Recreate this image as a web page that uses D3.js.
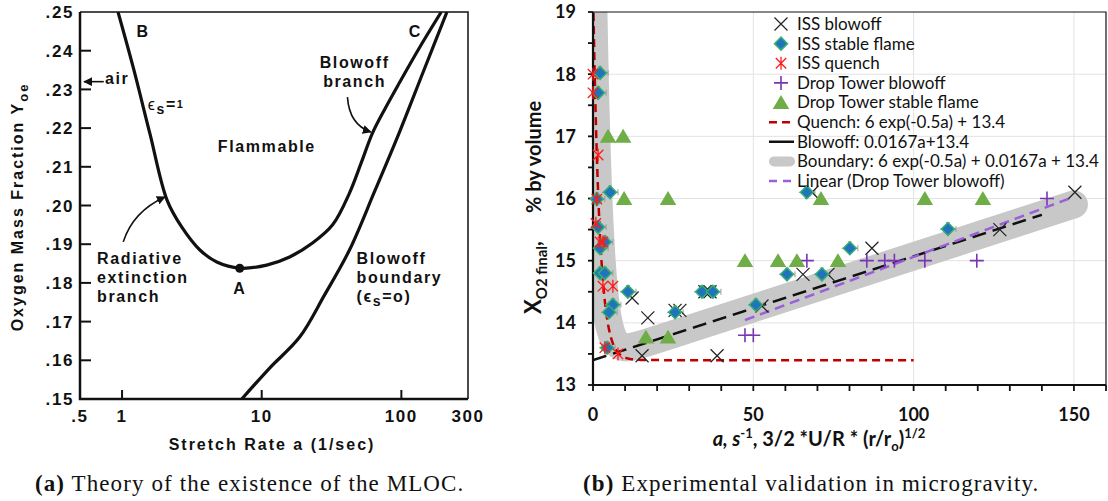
<!DOCTYPE html>
<html>
<head>
<meta charset="utf-8">
<script src="https://cdn.jsdelivr.net/npm/d3@7"></script>
<style>
  body { margin: 0; background: #fff; }
  svg { display: block; }
  .ta { font-family: "Liberation Sans", Arial, sans-serif; font-weight: bold; font-size: 16px; letter-spacing: 1.6px; fill: #111; }
  .tb { font-family: Lato, "Open Sans", sans-serif; fill: #111; }
  .cap { font-family: "Liberation Serif", "Times New Roman", serif; font-size: 23px; letter-spacing: 1.1px; fill: #111; }
</style>
</head>
<body>
<svg id="fig" width="1108" height="501"></svg>
<script>
// ---------- panel (a): theory, stretch rate vs oxygen mass fraction ----------
var radBranch = [[0.936,0.250],[1.20,0.2358],[1.58,0.2187],[2.10,0.2014],[2.68,0.1944],[3.61,0.1885],
  [4.77,0.1854],[6.96,0.1838],[10.86,0.1846],[15.85,0.1867],[23.1,0.1903],[32.2,0.1950],[42.5,0.2032],
  [51.8,0.2112],[62.1,0.2187],[76.9,0.2252],[96.8,0.2317],[134.4,0.2407],[193,0.250]];
var blowoffBoundary = [[7.2,0.150],[11.4,0.158],[18.7,0.166],[28.2,0.1769],[42.5,0.1885],[64.1,0.2035],
  [96.3,0.2187],[143.3,0.2345],[212,0.250]];
var pointA = [6.96, 0.1838];
var yTicksA = d3.range(0.15, 0.2501, 0.01);
var xTickLabelsA = [[0.5,'.5'],[1,'1'],[10,'10'],[100,'100'],[300,'300']];

// ---------- panel (b): experiments in microgravity ----------
var issBlowoff = [[12.2,14.40],[17.1,14.08],[15.3,13.47],[38.7,13.47],[25.6,14.2],[27.1,14.2],[34.9,14.5],
  [36.5,14.5],[52.7,14.27],[65.5,14.78],[73.3,14.78],[68.3,16.1],[87.0,15.2],[126.9,15.5],[150.3,16.1]];
var issStable = [[2.2,18.02],[1.6,17.70],[5.3,16.10],[1.2,15.99],[1.6,15.54],[2.2,15.20],[3.7,15.30],
  [2.2,14.80],[3.7,14.80],[6.2,14.29],[5.0,14.17],[4.4,13.60],[10.9,14.50],[25.6,14.17],[34.0,14.5],
  [37.4,14.5],[50.8,14.29],[66.7,16.10],[80.1,15.20],[60.5,14.78],[71.4,14.78],[110.7,15.51]];
var issQuench = [[0,18.0],[0,17.70],[1.6,16.70],[1.2,15.99],[0.9,15.60],[2.2,15.30],[3.1,15.30],
  [3.1,14.59],[6.2,14.59],[3.7,13.60],[7.8,13.50]];
var dropBlowoff = [[47.4,13.8],[50.0,13.8],[66.7,15.0],[85.4,15.0],[91.0,15.0],[94.0,15.0],[103.5,15.0],
  [119.7,15.0],[141.6,16.0]];
var dropStable = [[4.7,17.0],[9.4,17.0],[9.7,16.0],[23.4,16.0],[71.1,16.0],[103.5,16.0],[121.6,16.0],
  [47.4,15.0],[57.7,15.0],[63.6,15.0],[76.4,15.0],[16.5,13.77],[23.4,13.77]];
var quenchEnd = 100, blowoffEnd = 140, boundaryEnd = 150, trendEnd = 150;
var yTicksB = [13,14,15,16,17,18,19];
var xTicksB = [0,50,100,150];
var legendLabels = ['ISS blowoff','ISS stable flame','ISS quench','Drop Tower blowoff','Drop Tower stable flame',
  'Quench: 6 exp(-0.5a) + 13.4','Blowoff: 0.0167a+13.4','Boundary: 6 exp(-0.5a) + 0.0167a + 13.4',
  'Linear (Drop Tower blowoff)'];

var svg = d3.select('#fig');
var defs = svg.append('defs');

// =============== panel (a) ===============
var xa = d3.scaleLog().domain([0.5, 300]).range([80, 468]);
var ya = d3.scaleLinear().domain([0.15, 0.25]).range([399, 12]);

defs.append('clipPath').attr('id', 'clipA').append('rect')
  .attr('x', 80).attr('y', 12).attr('width', 388).attr('height', 387);
defs.append('marker').attr('id', 'head').attr('viewBox', '0 0 10 10')
  .attr('refX', 9).attr('refY', 5).attr('markerWidth', 9).attr('markerHeight', 9)
  .attr('markerUnits', 'userSpaceOnUse').attr('orient', 'auto')
  .append('path').attr('d', 'M0,0L10,5L0,10z').attr('fill', '#111');

var ga = svg.append('g');
// frame
ga.append('path').attr('d', 'M' + xa(0.5) + ',' + ya(0.25) + 'H' + xa(300) + 'V' + ya(0.15))
  .attr('fill', 'none').attr('stroke', '#111').attr('stroke-width', 1.5);
ga.append('path').attr('d', 'M' + xa(0.5) + ',' + ya(0.25) + 'V' + ya(0.15) + 'H' + xa(300))
  .attr('fill', 'none').attr('stroke', '#111').attr('stroke-width', 2.5);

// inward ticks
ga.selectAll('.yt').data(yTicksA.slice(1, -1)).enter().append('line')
  .attr('x1', xa(0.5)).attr('x2', xa(0.5) + 11)
  .attr('y1', function(d){ return ya(d); }).attr('y2', function(d){ return ya(d); })
  .attr('stroke', '#111').attr('stroke-width', 2);
ga.selectAll('.xt').data([1, 10, 100]).enter().append('line')
  .attr('x1', function(d){ return xa(d); }).attr('x2', function(d){ return xa(d); })
  .attr('y1', ya(0.15)).attr('y2', ya(0.15) - 9)
  .attr('stroke', '#111').attr('stroke-width', 2);

ga.selectAll('.yl').data(yTicksA).enter().append('text').attr('class', 'ta')
  .attr('x', xa(0.5) - 6).attr('y', function(d){ return ya(d); }).attr('dy', '0.36em')
  .attr('text-anchor', 'end').style('font-size', '17px')
  .text(function(d){ return d3.format('.2f')(d).replace(/^0/, ''); });
ga.selectAll('.xl').data(xTickLabelsA).enter().append('text').attr('class', 'ta')
  .attr('x', function(d){ return xa(d[0]); }).attr('y', 422)
  .attr('text-anchor', 'middle').style('font-size', '17px')
  .text(function(d){ return d[1]; });

ga.append('text').attr('class', 'ta').attr('x', 272).attr('y', 450).attr('text-anchor', 'middle')
  .style('letter-spacing', '2px').text('Stretch Rate a (1/sec)');
var yTitleA = ga.append('text').attr('class', 'ta')
  .attr('transform', 'translate(23,207) rotate(-90)').attr('text-anchor', 'middle')
  .style('letter-spacing', '2px');
yTitleA.append('tspan').text('Oxygen Mass Fraction Y');
yTitleA.append('tspan').attr('dy', 5).style('font-size', '13px').text('oe');

// curves
var lineA = d3.line().x(function(d){ return xa(d[0]); }).y(function(d){ return ya(d[1]); })
  .curve(d3.curveCatmullRom.alpha(0.5));
var curves = ga.append('g').attr('clip-path', 'url(#clipA)');
[radBranch, blowoffBoundary].forEach(function(c){
  curves.append('path').attr('d', lineA(c)).attr('fill', 'none')
    .attr('stroke', '#111').attr('stroke-width', 3.2);
});
ga.append('circle').attr('cx', xa(pointA[0])).attr('cy', ya(pointA[1])).attr('r', 4.5).attr('fill', '#111');

// annotations, placed in data coordinates
function note(a, y, lines, anchor){
  var t = ga.append('text').attr('class', 'ta').attr('x', xa(a)).attr('y', ya(y))
    .attr('text-anchor', anchor || 'start');
  lines.forEach(function(s, i){
    t.append('tspan').attr('x', xa(a)).attr('dy', i ? 19 : 0).text(s);
  });
  return t;
}
note(1.27, 0.2435, ['B']);
note(113, 0.2435, ['C']);
note(0.756, 0.2315, ['air']);
note(4.85, 0.2138, ['Flammable']);
note(46.3, 0.2355, ['Blowoff', 'branch'], 'middle');
note(0.663, 0.1849, ['Radiative', 'extinction', 'branch']);
note(pointA[0], 0.1771, ['A'], 'middle');
var bb = note(47.8, 0.1849, ['Blowoff', 'boundary']);
bb.append('tspan').attr('x', xa(47.8)).attr('dy', 19).text('(\u03f5');
bb.append('tspan').attr('dy', 4).style('font-size', '14px').text('s');
bb.append('tspan').attr('dy', -4).text('=o)');
var eps1 = ga.append('text').attr('class', 'ta').attr('x', xa(1.53)).attr('y', ya(0.2247));
eps1.append('tspan').style('font-weight', 'normal').text('\u03f5');
eps1.append('tspan').attr('dy', 4).style('font-size', '14px').text('s');
eps1.append('tspan').attr('dy', -4).text('=');
eps1.append('tspan').attr('dy', -2).style('font-size', '11px').text('1');

// arrows
function arrow(p0, c, p1){
  ga.append('path')
    .attr('d', 'M' + xa(p0[0]) + ',' + ya(p0[1]) + 'Q' + xa(c[0]) + ',' + ya(c[1]) + ' ' + xa(p1[0]) + ',' + ya(p1[1]))
    .attr('fill', 'none').attr('stroke', '#111').attr('stroke-width', 1.6).attr('marker-end', 'url(#head)');
}
arrow([1.02, 0.1906], [1.20, 0.1985], [2.03, 0.2022]);
arrow([41.1, 0.2280], [42.5, 0.2208], [60.5, 0.2190]);
arrow([0.74, 0.232], [0.64, 0.232], [0.535, 0.232]);

svg.append('text').attr('class', 'cap').attr('x', 35).attr('y', 491)
  .html('<tspan font-weight="bold">(a)</tspan> Theory of the existence of the MLOC.');

// =============== panel (b) ===============
var xb = d3.scaleLinear().domain([0, 160]).range([593, 1106]);
var yb = d3.scaleLinear().domain([13, 19]).range([385, 12]);
defs.append('clipPath').attr('id', 'clipB').append('rect')
  .attr('x', 593).attr('y', 12).attr('width', 513).attr('height', 373);

var gb = svg.append('g');
// gridlines
gb.selectAll('.gy').data(yTicksB.slice(1, -1)).enter().append('line')
  .attr('x1', xb(0)).attr('x2', xb(160))
  .attr('y1', function(d){ return yb(d); }).attr('y2', function(d){ return yb(d); })
  .attr('stroke', '#e3e3e3').attr('stroke-width', 1);
gb.selectAll('.gx').data(xTicksB.slice(1)).enter().append('line')
  .attr('x1', function(d){ return xb(d); }).attr('x2', function(d){ return xb(d); })
  .attr('y1', yb(19)).attr('y2', yb(13))
  .attr('stroke', '#e3e3e3').attr('stroke-width', 1);

// fitted curves
function curve(f, a0, a1){
  return d3.range(a0, a1 + 1e-9, 0.05).map(function(a){ return [a, f(a)]; });
}
function quenchFit(a){ return 6 * Math.exp(-0.5 * a) + 13.4; }
function blowoffFit(a){ return 0.0167 * a + 13.4; }
function boundaryFit(a){ return 6 * Math.exp(-0.5 * a) + 0.0167 * a + 13.4; }
// least squares trend through the drop tower blowoff points
var mx = d3.mean(dropBlowoff, function(d){ return d[0]; });
var my = d3.mean(dropBlowoff, function(d){ return d[1]; });
var slope = d3.sum(dropBlowoff, function(d){ return (d[0] - mx) * (d[1] - my); }) /
            d3.sum(dropBlowoff, function(d){ return (d[0] - mx) * (d[0] - mx); });
function trendFit(a){ return my + slope * (a - mx); }

var lineB = d3.line().x(function(d){ return xb(d[0]); }).y(function(d){ return yb(d[1]); });
var fits = gb.append('g').attr('clip-path', 'url(#clipB)');
fits.append('path').attr('d', lineB(curve(boundaryFit, 0, boundaryEnd)))
  .attr('fill', 'none').attr('stroke', '#c8c8c8').attr('stroke-width', 28)
  .attr('stroke-linecap', 'round').attr('stroke-linejoin', 'round');
fits.append('path').attr('d', lineB(curve(quenchFit, 0, quenchEnd)))
  .attr('fill', 'none').attr('stroke', '#c00000').attr('stroke-width', 2.5).attr('stroke-dasharray', '8,5');
fits.append('path').attr('d', lineB(curve(blowoffFit, 0, blowoffEnd)))
  .attr('fill', 'none').attr('stroke', '#111').attr('stroke-width', 2.5).attr('stroke-dasharray', '14,7');
fits.append('path').attr('d', lineB(curve(trendFit, d3.min(dropBlowoff, function(d){ return d[0]; }), trendEnd)))
  .attr('fill', 'none').attr('stroke', '#9b5fd8').attr('stroke-width', 2.5).attr('stroke-dasharray', '10,6');

// axes
gb.append('path').attr('d', 'M' + xb(0) + ',' + yb(19) + 'H' + xb(160) + 'V' + yb(13))
  .attr('fill', 'none').attr('stroke', '#111').attr('stroke-width', 1.2);
gb.append('path').attr('d', 'M' + xb(0) + ',' + yb(19) + 'V' + yb(13) + 'H' + xb(160))
  .attr('fill', 'none').attr('stroke', '#111').attr('stroke-width', 2.2);
gb.selectAll('.ytb').data(d3.range(13, 19.01, 0.5)).enter().append('line')
  .attr('x1', xb(0) - 5).attr('x2', xb(0))
  .attr('y1', function(d){ return yb(d); }).attr('y2', function(d){ return yb(d); })
  .attr('stroke', '#111').attr('stroke-width', 1.8);
gb.selectAll('.xtb').data(d3.range(0, 160.1, 10)).enter().append('line')
  .attr('x1', function(d){ return xb(d); }).attr('x2', function(d){ return xb(d); })
  .attr('y1', yb(13)).attr('y2', yb(13) + 6)
  .attr('stroke', '#111').attr('stroke-width', 1.8);
gb.selectAll('.ylb').data(yTicksB).enter().append('text').attr('class', 'tb')
  .attr('x', 576).attr('y', function(d){ return yb(d); }).attr('dy', '0.36em')
  .attr('text-anchor', 'end').style('font-size', '18px').style('font-weight', 'bold')
  .text(function(d){ return d; });
gb.selectAll('.xlb').data(xTicksB).enter().append('text').attr('class', 'tb')
  .attr('x', function(d){ return xb(d); }).attr('y', 421)
  .attr('text-anchor', 'middle').style('font-size', '18px').style('font-weight', 'bold')
  .text(function(d){ return d; });

// axis titles
var xt = gb.append('text').attr('class', 'tb').attr('x', 819).attr('y', 446)
  .attr('text-anchor', 'middle').style('font-size', '20px').style('font-weight', 'bold');
xt.append('tspan').style('font-style', 'italic').text('a,  s');
xt.append('tspan').attr('dy', -8).style('font-size', '13px').text('-1');
xt.append('tspan').attr('dy', 8).text(', 3/2 *U/R * (r/r');
xt.append('tspan').attr('dy', 5).style('font-size', '13px').text('o');
xt.append('tspan').attr('dy', -5).text(')');
xt.append('tspan').attr('dy', -8).style('font-size', '13px').text('1/2');

var yt = gb.append('text').attr('class', 'tb').attr('transform', 'translate(541,314) rotate(-90)')
  .style('font-size', '20px').style('font-weight', 'bold');
yt.append('tspan').style('font-size', '22px').text('X');
yt.append('tspan').attr('dy', 6).style('font-size', '15px').text('O2 final');
yt.append('tspan').attr('dy', -6).text(',');
gb.append('text').attr('class', 'tb').attr('transform', 'translate(541,213) rotate(-90)')
  .style('font-size', '20px').style('font-weight', 'bold').text('% by volume');

// error bars on the ISS stable flame points
var eb = gb.append('g').attr('stroke', '#9a9a9a').attr('stroke-width', 1);
issStable.forEach(function(d){
  var x0 = xb(d[0] - 2.5), x1 = xb(d[0] + 2.5), y = yb(d[1]);
  eb.append('path').attr('d', 'M' + Math.max(x0, 593) + ',' + y + 'H' + x1 + 'M' + x1 + ',' + (y - 3) + 'V' + (y + 3));
  eb.append('path').attr('d', 'M' + xb(d[0]) + ',' + yb(d[1] + 0.1) + 'V' + yb(d[1] - 0.1) +
    'M' + (xb(d[0]) - 2) + ',' + yb(d[1] + 0.1) + 'h4');
});

// marker shapes
var shapes = {
  cross: function(s){ return 'M' + -s + ',' + -s + 'L' + s + ',' + s + 'M' + -s + ',' + s + 'L' + s + ',' + -s; },
  plus: function(s){ return 'M' + -s + ',0H' + s + 'M0,' + -s + 'V' + s; },
  star: function(s){ var k = s * 0.8; return 'M0,' + -s + 'V' + s + 'M' + -k + ',' + -k + 'L' + k + ',' + k + 'M' + -k + ',' + k + 'L' + k + ',' + -k; },
  diamond: function(s){ return 'M0,' + -s + 'L' + s + ',0L0,' + s + 'L' + -s + ',0Z'; },
  tri: function(s){ return 'M0,' + -s + 'L' + (s * 1.1) + ',' + (s * 0.85) + 'L' + (-s * 1.1) + ',' + (s * 0.85) + 'Z'; }
};
var series = [
  { data: issBlowoff, shape: 'cross', size: 6.5, fill: 'none', stroke: '#222', sw: 1.2 },
  { data: issStable, shape: 'diamond', size: 6.5, fill: '#1f74bd', stroke: '#35b070', sw: 1.5 },
  { data: issQuench, shape: 'star', size: 6.5, fill: 'none', stroke: '#ff1a1a', sw: 1.3 },
  { data: dropBlowoff, shape: 'plus', size: 7, fill: 'none', stroke: '#7a35b5', sw: 1.6 },
  { data: dropStable, shape: 'tri', size: 7.5, fill: '#6fad47', stroke: 'none', sw: 0 }
];
series.forEach(function(s){
  gb.append('g').selectAll('path').data(s.data).enter().append('path')
    .attr('transform', function(d){ return 'translate(' + xb(d[0]) + ',' + yb(d[1]) + ')'; })
    .attr('d', shapes[s.shape](s.size))
    .attr('fill', s.fill).attr('stroke', s.stroke).attr('stroke-width', s.sw);
});

// legend
var lg = gb.append('g');
var rowY = d3.scalePoint().domain(d3.range(legendLabels.length)).range([24, 181]);
legendLabels.forEach(function(label, i){
  var y = rowY(i), cx = 781;
  if (i < 5) {
    var s = series[i];
    lg.append('path').attr('transform', 'translate(' + cx + ',' + y + ')').attr('d', shapes[s.shape](s.size))
      .attr('fill', s.fill).attr('stroke', s.stroke).attr('stroke-width', s.sw);
  } else {
    var st = [
      { c: '#c00000', w: 2.5, dash: '8,5' },
      { c: '#111', w: 2.5, dash: null },
      { c: '#c8c8c8', w: 10, dash: null },
      { c: '#9b5fd8', w: 2.5, dash: '8,6' }
    ][i - 5];
    lg.append('line').attr('x1', i === 7 ? 774 : 769).attr('x2', i === 7 ? 790 : 794)
      .attr('y1', y).attr('y2', y).attr('stroke', st.c).attr('stroke-width', st.w)
      .attr('stroke-linecap', i === 7 ? 'round' : 'butt').attr('stroke-dasharray', st.dash);
  }
  lg.append('text').attr('class', 'tb').attr('x', 797).attr('y', y).attr('dy', '0.35em')
    .style('font-size', '17px').text(label);
});

svg.append('text').attr('class', 'cap').attr('x', 583).attr('y', 491)
  .html('<tspan font-weight="bold">(b)</tspan> Experimental validation in microgravity.');
</script>
</body>
</html>
